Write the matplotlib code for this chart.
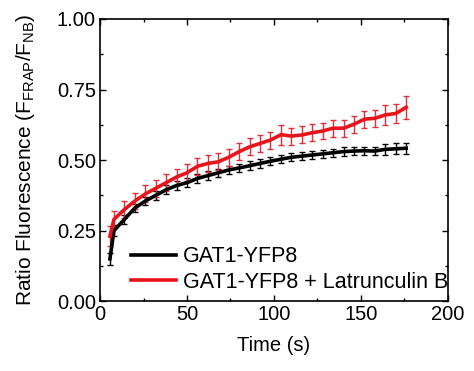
import matplotlib
matplotlib.use("Agg")
import matplotlib.pyplot as plt
from matplotlib.ticker import MultipleLocator

# time points (s)
time = [5.7, 8, 14, 20, 26, 32, 38, 44, 50, 56, 62, 68, 74, 80, 86, 92, 98,
        104, 110, 116, 122, 128, 134, 140, 146, 152, 158, 164, 170, 176]

# GAT1-YFP8
ctrl_mean = [0.15, 0.25, 0.29, 0.33, 0.355, 0.375, 0.395, 0.41, 0.42, 0.435,
             0.445, 0.455, 0.465, 0.472, 0.48, 0.488, 0.496, 0.503, 0.51, 0.514,
             0.518, 0.522, 0.526, 0.53, 0.532, 0.533, 0.532, 0.538, 0.54, 0.542]
ctrl_err = [0.02, 0.02, 0.015, 0.015, 0.015, 0.015, 0.015, 0.015, 0.015, 0.015,
            0.015, 0.015, 0.015, 0.015, 0.015, 0.015, 0.015, 0.015, 0.015, 0.015,
            0.015, 0.015, 0.015, 0.015, 0.015, 0.015, 0.015, 0.02, 0.02, 0.02]

# GAT1-YFP8 + Latrunculin B
latb_mean = [0.23, 0.29, 0.325, 0.355, 0.38, 0.40, 0.42, 0.44, 0.455, 0.478,
             0.488, 0.494, 0.51, 0.53, 0.547, 0.559, 0.571, 0.59, 0.585, 0.589,
             0.597, 0.603, 0.613, 0.613, 0.627, 0.645, 0.648, 0.66, 0.665, 0.687]
latb_err = [0.035, 0.03, 0.03, 0.03, 0.03, 0.03, 0.03, 0.03, 0.03, 0.03,
            0.03, 0.03, 0.03, 0.03, 0.03, 0.03, 0.03, 0.035, 0.03, 0.03,
            0.03, 0.03, 0.03, 0.03, 0.03, 0.03, 0.03, 0.035, 0.035, 0.04]

plt.rcParams["font.family"] = ["Liberation Sans", "DejaVu Sans"]
plt.rcParams["mathtext.fontset"] = "custom"
plt.rcParams["mathtext.rm"] = "Liberation Sans"
plt.rcParams["mathtext.it"] = "Liberation Sans"

fig, ax = plt.subplots(figsize=(4.74, 3.71), dpi=100)
fig.subplots_adjust(left=0.211, right=0.945, top=0.949, bottom=0.188)

ax.errorbar(time, ctrl_mean, yerr=ctrl_err, color="black", lw=2.6,
            elinewidth=1.0, capsize=2.5, capthick=1.0, label="GAT1-YFP8")
ax.errorbar(time, latb_mean, yerr=latb_err, color="#e8141c", ecolor="#e0303a", lw=2.6,
            elinewidth=1.0, capsize=2.5, capthick=1.0,
            label="GAT1-YFP8 + Latrunculin B")

ax.set_xlim(0, 200)
ax.set_ylim(0, 1.0)
ax.xaxis.set_major_locator(MultipleLocator(50))
ax.xaxis.set_minor_locator(MultipleLocator(25))
ax.yaxis.set_major_locator(MultipleLocator(0.25))
ax.yaxis.set_minor_locator(MultipleLocator(0.125))
ax.yaxis.set_major_formatter(plt.FormatStrFormatter("%.2f"))
ax.tick_params(which="both", direction="in", top=True, right=True,
               labelsize=14.5, width=1.0)
ax.tick_params(which="major", length=4, pad=3)
ax.tick_params(which="minor", length=2.5)
for s in ax.spines.values():
    s.set_linewidth(1.2)

ax.set_xlabel("Time (s)", fontsize=14.5, labelpad=8)
ax.set_ylabel(r"Ratio Fluorescence (F$_{\mathrm{FRAP}}$/F$_{\mathrm{NB}}$)",
              fontsize=15, labelpad=14)

handles, labels = ax.get_legend_handles_labels()
handles = [h[0] for h in handles]
ax.legend(handles, labels, loc="lower right", frameon=False, fontsize=15.5,
          handlelength=2.1, handletextpad=0.3, labelspacing=0.2,
          borderaxespad=0.0, bbox_to_anchor=(1.025, 0.0))

fig.savefig("out.png", dpi=100)
